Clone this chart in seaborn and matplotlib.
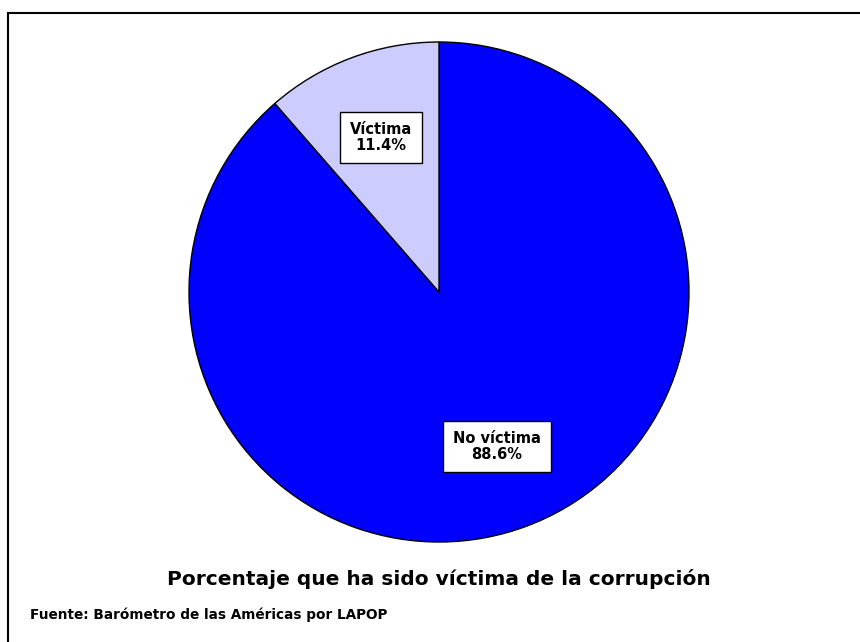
import matplotlib
matplotlib.use("Agg")
import matplotlib.pyplot as plt
import seaborn as sns
from matplotlib.patches import Rectangle

# data
categories = ["No víctima", "Víctima"]
shares = [88.6, 11.4]
colors = ["#0000FF", "#CCCCFF"]

sns.set_theme(style="white")
plt.rcParams['font.family'] = ['DejaVu Sans']
plt.rcParams['text.color'] = 'black'

fig = plt.figure(figsize=(8.6, 6.42), dpi=100)
fig.patch.set_facecolor("white")

# axes placed so the pie sits where it does in the original
ax = fig.add_axes([189 / 860, 100 / 642, 500 / 860, 500 / 642])

labels = [f"{c}\n{s:.1f}%" for c, s in zip(categories, shares)]
wedges, texts = ax.pie(shares, labels=labels, colors=colors, startangle=90,
                       counterclock=False, labeldistance=0.66,
                       wedgeprops=dict(edgecolor="black", linewidth=1.0),
                       textprops=dict(ha="center", va="center", fontsize=10.5,
                                      fontweight="bold", color="black",
                                      linespacing=1.1))
for t in texts:
    t.set_bbox(dict(boxstyle="square,pad=0.7", facecolor="white",
                    edgecolor="black", linewidth=1.0))
ax.set_xlim(-1, 1)
ax.set_ylim(-1, 1)
ax.set_aspect("equal")

fig.text(439 / 860, 1 - 579 / 642, "Porcentaje que ha sido víctima de la corrupción",
         ha="center", va="center", fontsize=14.5, fontweight="bold", color="black")
fig.text(30 / 860, 1 - 615 / 642, "Fuente: Barómetro de las Américas por LAPOP",
         ha="left", va="center", fontsize=9.8, fontweight="bold", color="black")

# outer frame, cut off at the right and bottom like the original
fig.patches.append(Rectangle((7.5 / 860, -0.05), 1.0, 1 - 12.5 / 642 + 0.05,
                             transform=fig.transFigure, fill=False,
                             edgecolor="black", linewidth=1.5))

fig.savefig("out.png", dpi=100)
